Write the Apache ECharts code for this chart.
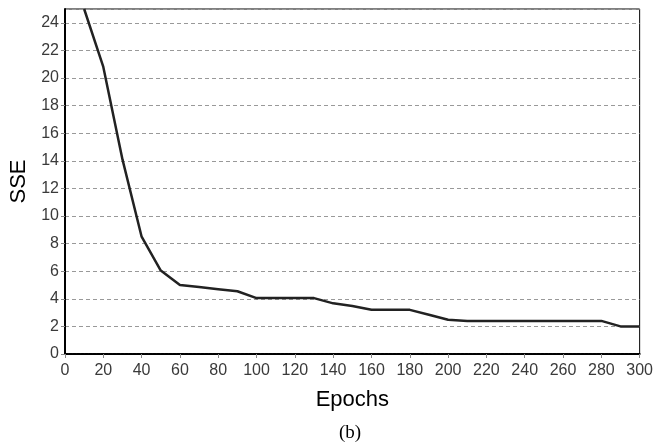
<!DOCTYPE html>
<html><head><meta charset="utf-8">
<script src="https://cdn.jsdelivr.net/npm/echarts@6/dist/echarts.min.js"></script>
<style>html,body{margin:0;padding:0;background:#fff}#c{width:656px;height:442px}</style>
</head><body><div id="c"></div>
<script>
const epochs = [10, 20, 30, 40, 50, 60, 70, 80, 90, 100, 110, 120, 130, 140, 150, 160, 170, 180, 190, 200, 210, 220, 230, 240, 250, 260, 270, 280, 290, 300];
const sse = [25.0, 20.8, 14.1, 8.5, 6.05, 5.0, 4.85, 4.7, 4.55, 4.05, 4.05, 4.05, 4.05, 3.67, 3.48, 3.2, 3.2, 3.2, 2.85, 2.48, 2.4, 2.4, 2.4, 2.4, 2.4, 2.4, 2.4, 2.4, 2.0, 2.0];
const xTitle = 'Epochs';
const yTitle = 'SSE';
const caption = '(b)';

const chart = echarts.init(document.getElementById('c'));
chart.setOption({
  animation: false,
  grid: {left: 65, right: 16, top: 9, bottom: 88, show: true, borderColor: '#000', borderWidth: 1, backgroundColor: 'transparent'},
  title: {text: caption, left: 345, top: 419, textAlign: 'center', textStyle: {fontFamily: 'Liberation Serif', fontSize: 19, fontWeight: 'normal', color: '#000'}},
  xAxis: {
    type: 'value', min: 0, max: 300, interval: 20,
    name: xTitle, nameLocation: 'middle', nameGap: 35,
    nameTextStyle: {fontFamily: 'Liberation Sans', fontSize: 22, color: '#000'},
    axisLine: {show: true, lineStyle: {color: '#000', width: 2, type: [3, 1]}},
    axisTick: {show: true, length: 4, lineStyle: {color: '#888'}},
    axisLabel: {fontFamily: 'Liberation Sans', fontSize: 16, color: '#3a3a3a', margin: 9},
    splitLine: {show: false}
  },
  yAxis: {
    type: 'value', min: 0, max: 25, interval: 2,
    name: yTitle, nameLocation: 'middle', nameGap: 35, nameRotate: 90,
    nameTextStyle: {fontFamily: 'Liberation Sans', fontSize: 22, color: '#000'},
    axisLine: {show: true, lineStyle: {color: '#000', width: 2}},
    axisTick: {show: true, length: 4, lineStyle: {color: '#888'}},
    axisLabel: {fontFamily: 'Liberation Sans', fontSize: 16, color: '#3a3a3a', margin: 6, showMaxLabel: false,
      formatter: v => (v % 2 === 0 ? String(v) : '')},
    splitLine: {show: true, lineStyle: {color: '#999', type: [4, 3], width: 1}}
  },
  series: [{
    type: 'line', data: epochs.map((e, i) => [e, sse[i]]),
    symbol: 'none', clip: true,
    lineStyle: {color: '#222', width: 2.5}
  }]
});
</script></body></html>
